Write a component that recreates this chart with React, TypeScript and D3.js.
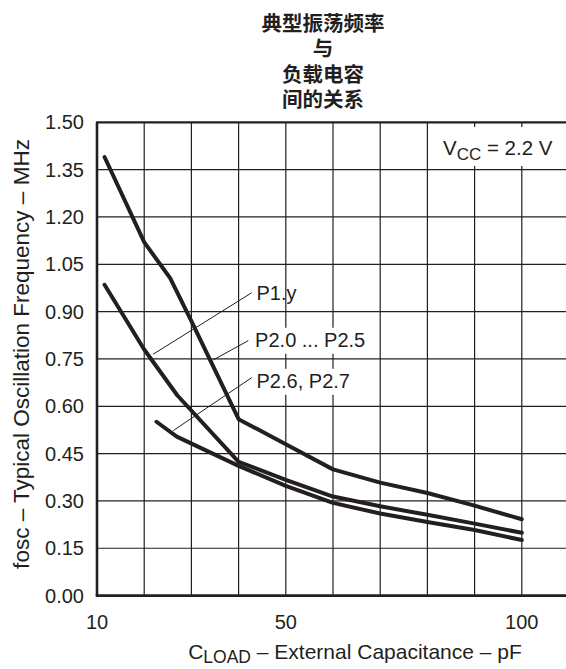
import React from "react";
import * as d3 from "d3";

// ---- data ----
const yTickValues = [0, 0.15, 0.3, 0.45, 0.6, 0.75, 0.9, 1.05, 1.2, 1.35, 1.5];
const xTickLabels = [10, 50, 100];
const xGridValues = [20, 30, 40, 50, 60, 70, 80, 90, 100];

const titleLines = ["典型振荡频率", "与", "负载电容", "间的关系"];

// P2.0 ... P2.5 (top curve)
const p20Cap = [11.6, 20, 25.5, 30, 40, 50, 60, 70, 80, 90, 100];
const p20Freq = [1.39, 1.12, 1.006, 0.87, 0.559, 0.48, 0.4, 0.358, 0.325, 0.285, 0.242];

// P1.y (middle curve)
const p1yCap = [11.6, 20, 27, 40, 50, 60, 70, 80, 90, 100];
const p1yFreq = [0.985, 0.78, 0.635, 0.424, 0.367, 0.314, 0.283, 0.256, 0.228, 0.199];

// P2.6, P2.7 (lower curve)
const p26Cap = [22.6, 26.9, 40, 50, 60, 70, 80, 90, 100];
const p26Freq = [0.551, 0.504, 0.411, 0.348, 0.294, 0.26, 0.233, 0.208, 0.176];

const seriesNames = ["P1.y", "P2.0 ... P2.5", "P2.6, P2.7"];
// annotation anchor (label) and curve target, in data units
const labelCap = [43.8, 43.5, 43.8];
const labelFreq = [0.937, 0.787, 0.657];
const leaderFromCap = [42.8, 42.06, 42.8];
const leaderFromFreq = [0.96, 0.808, 0.691];
const leaderToCap = [21.9, 34.64, 26.17];
const leaderToFreq = [0.765, 0.747, 0.523];
const labelBoxed = [false, true, true];

const W = 566;
const H = 669;
const INK = "#231f20";
const FONT = "'Liberation Sans', Arial, Helvetica, sans-serif";

export default function App() {
  const x = d3.scaleLinear().domain([10, 110]).range([97, 569]);
  const y = d3.scaleLinear().domain([0, 1.5]).range([595.6, 122.3]);

  const line = d3
    .line<[number, number]>()
    .x((d) => x(d[0]))
    .y((d) => y(d[1]))
    .curve(d3.curveLinear);

  const series: [number, number][][] = [
    p1yCap.map((c, i) => [c, p1yFreq[i]] as [number, number]),
    p20Cap.map((c, i) => [c, p20Freq[i]] as [number, number]),
    p26Cap.map((c, i) => [c, p26Freq[i]] as [number, number]),
  ];

  const fmt = d3.format(".2f");
  const x0 = x(10);
  const x1 = x(110);
  const yTop = y(1.5);
  const yBot = y(0);
  const titleY = [21.5, 47, 73, 97.5];

  return (
    <svg
      width={W}
      height={H}
      viewBox={`0 0 ${W} ${H}`}
      style={{ position: "absolute", left: 0, top: 0, background: "#fff" }}
      fontFamily={FONT}
    >
      <rect x={0} y={0} width={W} height={H} fill="#fff" />
      {/* title */}
      <text
        textAnchor="middle"
        dominantBaseline="central"
        fontFamily="'Noto Sans CJK SC', sans-serif"
        fontWeight="bold"
        fontSize={20.5}
        fill={INK}
      >
        {titleLines.map((t, i) => (
          <tspan key={i} x={323} y={titleY[i]} dominantBaseline="central">
            {t}
          </tspan>
        ))}
      </text>

      {/* grid */}
      {xGridValues.map((v) => (
        <line key={"gx" + v} x1={x(v)} x2={x(v)} y1={yTop} y2={yBot} stroke={INK} strokeWidth={1.2} />
      ))}
      {yTickValues.slice(1, -1).map((v) => (
        <line key={"gy" + v} x1={x0} x2={x1} y1={y(v)} y2={y(v)} stroke={INK} strokeWidth={1.2} />
      ))}

      {/* frame */}
      <line x1={x0 - 1} x2={x1} y1={yTop} y2={yTop} stroke={INK} strokeWidth={2.2} />
      <line x1={x0} x2={x0} y1={yTop} y2={yBot} stroke={INK} strokeWidth={2.6} />
      <line x1={x0 - 1.3} x2={x1} y1={yBot} y2={yBot} stroke={INK} strokeWidth={2.6} />
      <line x1={x1} x2={x1} y1={yTop} y2={yBot} stroke={INK} strokeWidth={2.2} />

      {/* VCC label */}
      <rect x={435} y={127} width={127} height={39} fill="#fff" />
      <text x={443} y={155} fontSize={20.5} fill={INK}>
        V
        <tspan fontSize={17} dy={5}>CC</tspan>
        <tspan dy={-5}> = 2.2 V</tspan>
      </text>

      {/* annotation boxes and labels */}
      {seriesNames.map((name, i) => (
        <g key={"lab" + i}>
          {labelBoxed[i] && (
            <rect
              x={x(labelCap[i]) - 5}
              y={y(labelFreq[i]) - 19.5}
              width={name.length * 9.2 + 2}
              height={26}
              fill="#fff"
            />
          )}
          <line
            x1={x(leaderFromCap[i])}
            y1={y(leaderFromFreq[i])}
            x2={x(leaderToCap[i])}
            y2={y(leaderToFreq[i])}
            stroke={INK}
            strokeWidth={1}
          />
          <text x={x(labelCap[i])} y={y(labelFreq[i])} fontSize={20} fill={INK}>
            {name}
          </text>
        </g>
      ))}

      {/* curves */}
      {series.map((s, i) => (
        <path
          key={"s" + i}
          d={line(s) || ""}
          fill="none"
          stroke={INK}
          strokeWidth={4}
          strokeLinejoin="round"
          strokeLinecap="round"
        />
      ))}

      {/* y tick labels */}
      {yTickValues.map((v) => (
        <text
          key={"yt" + v}
          x={84}
          y={y(v)}
          textAnchor="end"
          dominantBaseline="central"
          fontSize={20}
          fill={INK}
        >
          {fmt(v)}
        </text>
      ))}

      {/* x tick labels */}
      {xTickLabels.map((v) => (
        <text key={"xt" + v} x={x(v)} y={629} textAnchor="middle" fontSize={20} fill={INK}>
          {v}
        </text>
      ))}

      {/* axis titles */}
      <text
        transform={`translate(21,${354}) rotate(-90)`}
        textAnchor="middle"
        dominantBaseline="central"
        fontSize={22.5}
        fill={INK}
      >
        fosc – Typical Oscillation Frequency – MHz
      </text>
      <text x={355} y={659} textAnchor="middle" fontSize={21} fill={INK}>
        C
        <tspan fontSize={17.5} dy={4}>LOAD</tspan>
        <tspan dy={-4}> – External Capacitance – pF</tspan>
      </text>
    </svg>
  );
}
